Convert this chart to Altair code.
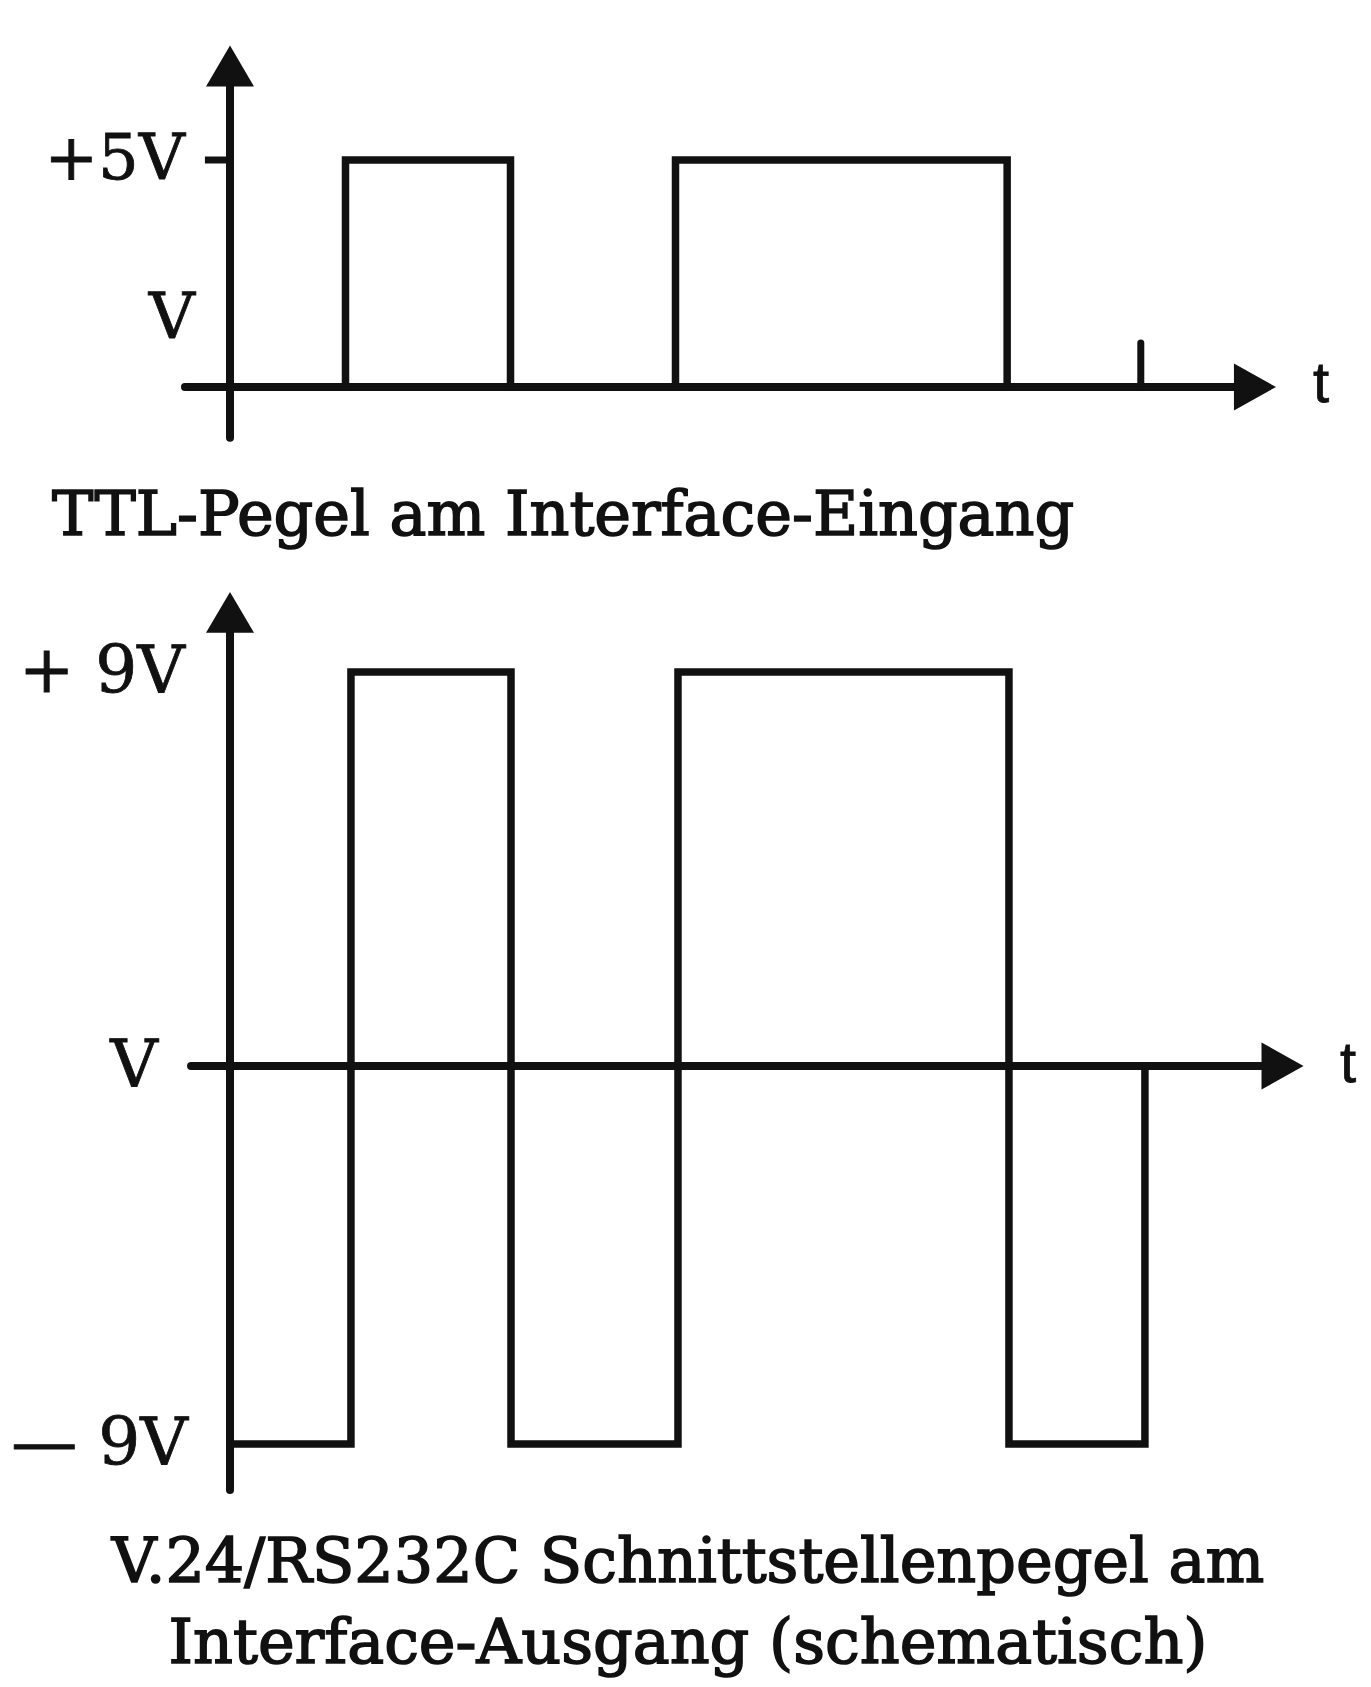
import altair as alt
import pandas as pd

# ---------------- data (time in bit units, level in volts) ----------------
ttl_edges = [0.70, 1.70, 2.70, 4.71]
ttl_levels = [0, 5, 0, 5, 0]
ttl_marker_t = 5.52
ttl_marker_h = 0.97

rs_edges = [0.733, 1.703, 2.715, 4.721, 5.545]
rs_levels = [-8.63, 9, -8.63, 9, -8.63, 0]

ttl_ticks = ["+5V", "V"]
rs_ticks = ["+ 9V", "V", "— 9V"]
title_ttl = "TTL-Pegel am Interface-Eingang"
title_rs = ["V.24/RS232C Schnittstellenpegel am", "Interface-Ausgang (schematisch)"]

SERIF = "DejaVu Serif"
SANS = "Liberation Sans"
INK = "#111111"

W = 1355
XS = alt.Scale(domain=[-1.3455, 6.8667], nice=False, zero=False)

UP = "M0,-0.85L1,0.85L-1,0.85Z"
RIGHT = "M-0.894,-1L0.894,0L-0.894,1Z"


def wave(edges, levels):
    pts = [(0.0, levels[0])]
    for i, e in enumerate(edges):
        pts.append((e, levels[i]))
        pts.append((e, levels[i + 1]))
    return pd.DataFrame({"i": range(len(pts)), "x": [p[0] for p in pts], "y": [p[1] for p in pts]})


def panel(height, ydom, wave_df, yaxis, taxis, up_y, right_x, labels, extra_rules):
    ys = alt.Scale(domain=ydom, nice=False, zero=False)
    X = alt.X("x:Q", scale=XS, axis=None)
    Y = alt.Y("y:Q", scale=ys, axis=None)

    w = alt.Chart(wave_df).mark_line(color=INK, strokeWidth=7.5, strokeJoin="miter", strokeCap="square").encode(
        x=X, y=Y, order="i:Q")

    vax = alt.Chart(pd.DataFrame([yaxis])).mark_rule(color=INK, strokeWidth=8, strokeCap="round").encode(
        x=X, y=Y, y2="y2:Q")
    hax = alt.Chart(pd.DataFrame([taxis])).mark_rule(color=INK, strokeWidth=8, strokeCap="round").encode(
        x=X, x2="x2:Q", y=Y)
    hr = alt.Chart(pd.DataFrame(extra_rules["h"])).mark_rule(color=INK, strokeWidth=7).encode(
        x=X, x2="x2:Q", y=Y)
    vr = alt.Chart(pd.DataFrame(extra_rules["v"])).mark_rule(color=INK, strokeWidth=7, strokeCap="round").encode(
        x=X, y=Y, y2="y2:Q")

    up = alt.Chart(pd.DataFrame([{"x": 0.0, "y": up_y}])).mark_point(
        shape=UP, size=2304, filled=True, opacity=1, color=INK, strokeWidth=0).encode(x=X, y=Y)
    rt = alt.Chart(pd.DataFrame([{"x": right_x, "y": 0.0}])).mark_point(
        shape=RIGHT, size=2209, filled=True, opacity=1, color=INK, strokeWidth=0).encode(x=X, y=Y)

    layers = [vax, hax, hr, vr, w, up, rt]
    for lab in labels:
        df = pd.DataFrame(lab["rows"])
        t = alt.Chart(df).mark_text(
            align=lab["align"], baseline=lab["baseline"], font=lab["font"],
            fontSize=lab["size"], color=INK, stroke=INK, strokeWidth=lab["sw"]).encode(x=X, y=Y, text="label:N")
        layers.append(t)
    return alt.layer(*layers).properties(width=W, height=height)


top = panel(
    572, [-4.251, 8.348], wave(ttl_edges, ttl_levels),
    {"x": 0.0, "y": -1.12, "y2": 7.0},
    {"x": -0.273, "x2": 6.15, "y": 0.0},
    7.07, 6.212,
    [
        {"rows": [{"x": -0.273, "y": 5.0, "label": ttl_ticks[0]}], "align": "right", "baseline": "middle", "font": SERIF, "size": 64, "sw": 0.8},
        {"rows": [{"x": -0.352, "y": 1.50, "label": ttl_ticks[1]}], "align": "center", "baseline": "middle", "font": SERIF, "size": 64, "sw": 0.8},
        {"rows": [{"x": 6.564, "y": -0.33, "label": "t"}], "align": "left", "baseline": "alphabetic", "font": SANS, "size": 58, "sw": 0.8},
        {"rows": [{"x": -1.079, "y": -3.26, "label": title_ttl}], "align": "left", "baseline": "alphabetic", "font": SERIF, "size": 62, "sw": 1.6},
    ],
    {"h": [{"x": -0.152, "x2": 0.0, "y": 5.0}],
     "v": [{"x": ttl_marker_t, "y": 0.0, "y2": ttl_marker_h}]},
)

bottom = panel(
    1099, [-14.0, 11.10], wave(rs_edges, rs_levels),
    {"x": 0.0, "y": -9.685, "y2": 10.2},
    {"x": -0.236, "x2": 6.3, "y": 0.0},
    10.36, 6.379,
    [
        {"rows": [{"x": -0.273, "y": 9.0, "label": rs_ticks[0]},
                  {"x": -0.255, "y": -8.63, "label": rs_ticks[2]}], "align": "right", "baseline": "middle", "font": SERIF, "size": 66, "sw": 0.8},
        {"rows": [{"x": -0.582, "y": 0.0, "label": rs_ticks[1]}], "align": "center", "baseline": "middle", "font": SERIF, "size": 66, "sw": 0.8},
        {"rows": [{"x": 6.727, "y": -0.365, "label": "t"}], "align": "left", "baseline": "alphabetic", "font": SANS, "size": 58, "sw": 0.8},
        {"rows": [{"x": 2.776, "y": -11.79, "label": title_rs[0]},
                  {"x": 2.776, "y": -13.63, "label": title_rs[1]}], "align": "center", "baseline": "alphabetic", "font": SERIF, "size": 62, "sw": 1.6},
    ],
    {"h": [{"x": 0.0, "x2": 0.0, "y": 0.0}],
     "v": [{"x": 0.0, "y": 0.0, "y2": 0.0}]},
)

chart = alt.vconcat(top, bottom, spacing=0).resolve_scale(y="independent").properties(
    padding=0, background="white"
).configure_view(stroke=None)

chart.save("out.html", embed_options={"renderer": "svg", "actions": False})
